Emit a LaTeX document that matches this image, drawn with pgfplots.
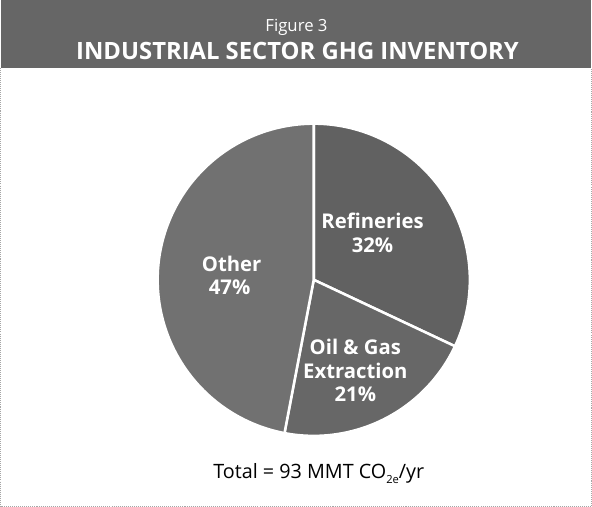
\documentclass[border=0pt]{standalone}
\usepackage{fontspec}
\setmainfont{Open Sans}
\usepackage{pgfplots}
\pgfplotsset{compat=1.18}
\definecolor{band}{HTML}{666666}
\definecolor{refin}{HTML}{616161}
\definecolor{oilgas}{HTML}{676767}
\definecolor{other}{HTML}{717171}
\begin{document}
\begin{tikzpicture}
\begin{axis}[
  width=592pt, height=501pt, scale only axis,
  xmin=0, xmax=592, ymin=0, ymax=501,
  hide axis, clip=false,
]
% title band and frame
\fill[band] (3,434) rectangle (586,501);
\draw[gray!70, line width=1pt, densely dotted] (3,434) -- (3,1.5) -- (586,1.5) -- (586,434);
\node[text=white, font=\fontsize{16.5}{18}\selectfont] at (295,474) {Figure 3};
\node[text=white, font=\bfseries\fontsize{23.5}{26}\selectfont] at (296,451) {INDUSTRIAL SECTOR GHG INVENTORY};
% pie: Refineries 32%, Oil & Gas Extraction 21%, Other 47% (start at 90 deg, clockwise)
\addplot[fill=refin, draw=white, line width=2.5pt, domain={90-32*3.6}:{90}, samples=120, variable=\t]
  ({312+154*cos(\t)}, {225+154*sin(\t)}) -- (312,225) -- cycle;
\addplot[fill=oilgas, draw=white, line width=2.5pt, domain={90-53*3.6}:{90-32*3.6}, samples=120, variable=\t]
  ({312+154*cos(\t)}, {225+154*sin(\t)}) -- (312,225) -- cycle;
\addplot[fill=other, draw=white, line width=2.5pt, domain={90}:{90+47*3.6}, samples=160, variable=\t]
  ({312+154*cos(\t)}, {225+154*sin(\t)}) -- (312,225) -- cycle;
% labels
\begin{scope}[every node/.style={text=white, font=\bfseries\fontsize{20}{22}\selectfont}]
\node at (370,283) {Refineries};
\node at (370,259) {32\%};
\node at (231,241) {Other};
\node at (229,218) {47\%};
\node at (353,159) {Oil \& Gas};
\node at (353,135) {Extraction};
\node at (353,112) {21\%};
\end{scope}
\node[font=\fontsize{19.5}{22}\selectfont] at (317,34) {Total = 93 MMT CO\raisebox{-0.5ex}{\fontsize{11}{11}\selectfont 2e}/yr};
\end{axis}
\end{tikzpicture}
\end{document}
